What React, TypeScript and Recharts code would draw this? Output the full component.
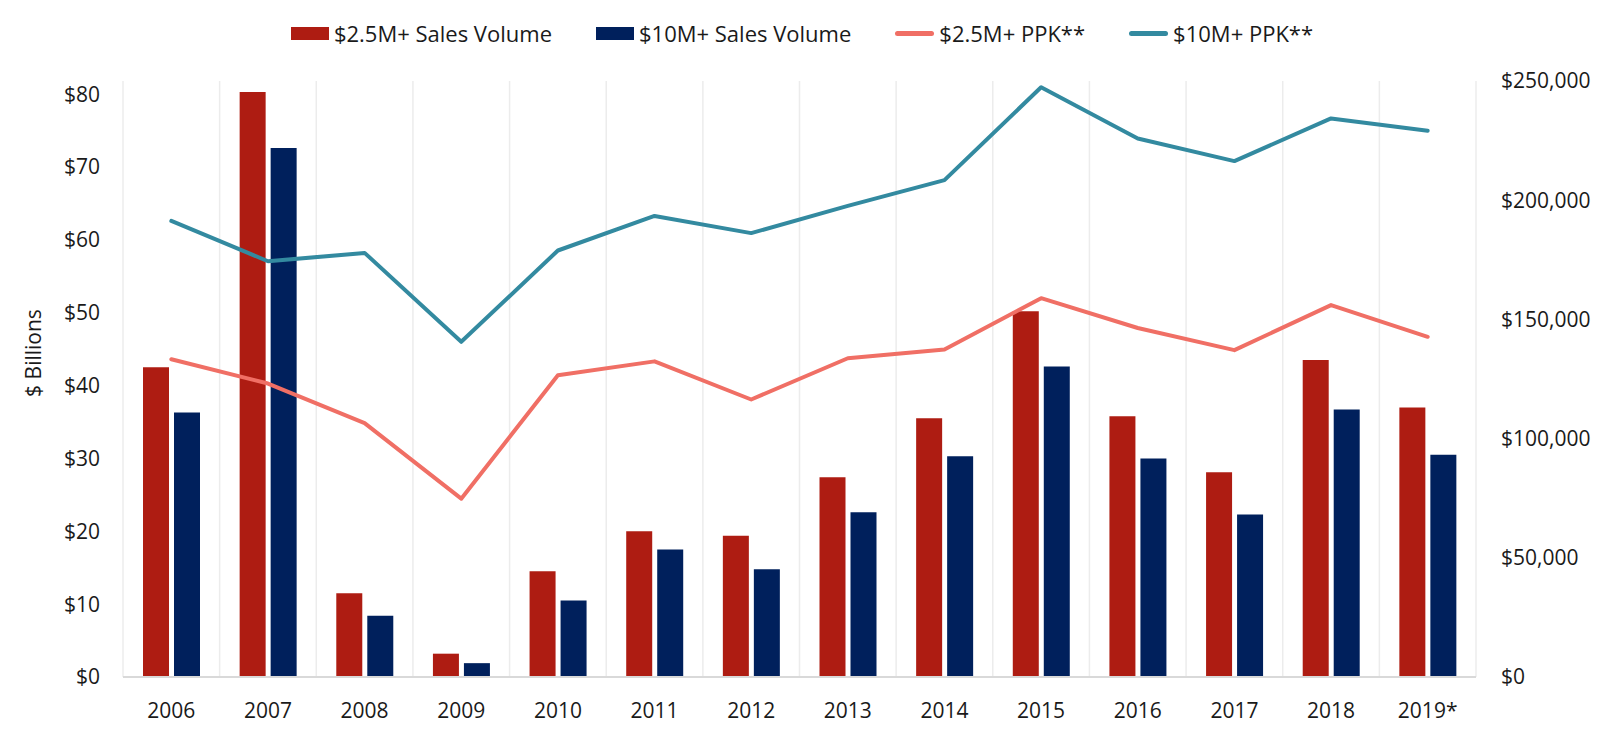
import React from 'react';
import {
  ComposedChart,
  Bar,
  Line,
  XAxis,
  YAxis,
  CartesianGrid,
  Legend,
} from 'recharts';

// Luxury home market: annual sales volume (bars, $B) and price per square foot (lines)
const years = ['2006', '2007', '2008', '2009', '2010', '2011', '2012', '2013', '2014', '2015', '2016', '2017', '2018', '2019*'];
const volume25M = [42.5, 80.3, 11.5, 3.2, 14.5, 20.0, 19.4, 27.4, 35.5, 50.2, 35.8, 28.1, 43.5, 37.0];
const volume10M = [36.3, 72.6, 8.4, 1.9, 10.5, 17.5, 14.8, 22.6, 30.3, 42.6, 30.0, 22.3, 36.7, 30.5];
const ppk25M = [133300, 123100, 106500, 74800, 126600, 132400, 116400, 133700, 137400, 158900, 146400, 137100, 156000, 142700];
const ppk10M = [191300, 174400, 177900, 140600, 178900, 193400, 186200, 197600, 208400, 247400, 225900, 216400, 234300, 229100];

const leftTicks = [0, 10, 20, 30, 40, 50, 60, 70, 80];
const rightTicks = [0, 50000, 100000, 150000, 200000, 250000];

const COLORS = {
  vol25: '#AE1C12',
  vol10: '#00205C',
  ppk25: '#F06F65',
  ppk10: '#338AA0',
  grid: '#ECECEC',
  axis: '#D9D9D9',
  text: '#1A1A1A',
};

const FONT = '"Open Sans", "Noto Sans", sans-serif';

const data = years.map((year, i) => ({
  year,
  vol25: volume25M[i],
  vol10: volume10M[i],
  ppk25: ppk25M[i],
  ppk10: ppk10M[i],
}));

const legendItems = [
  { key: 'vol25', label: '$2.5M+ Sales Volume', color: COLORS.vol25, kind: 'bar' },
  { key: 'vol10', label: '$10M+ Sales Volume', color: COLORS.vol10, kind: 'bar' },
  { key: 'ppk25', label: '$2.5M+ PPK**', color: COLORS.ppk25, kind: 'line' },
  { key: 'ppk10', label: '$10M+ PPK**', color: COLORS.ppk10, kind: 'line' },
];

function ChartLegend() {
  return (
    <div
      style={{
        height: 40,
        display: 'flex',
        alignItems: 'center',
        justifyContent: 'center',
        gap: 44,
        fontFamily: FONT,
        fontSize: 22,
        color: COLORS.text,
      }}
    >
      {legendItems.map((item) => (
        <div key={item.key} style={{ display: 'flex', alignItems: 'center', gap: 5 }}>
          {item.kind === 'bar' ? (
            <span style={{ display: 'inline-block', width: 38, height: 13, background: item.color }} />
          ) : (
            <span
              style={{
                display: 'inline-block',
                width: 39,
                height: 5,
                borderRadius: 2.5,
                background: item.color,
              }}
            />
          )}
          <span style={{ whiteSpace: 'nowrap' }}>{item.label}</span>
        </div>
      ))}
    </div>
  );
}

function BillionsLabel() {
  const x = 33;
  const y = 353;
  return (
    <text
      x={x}
      y={y}
      transform={`rotate(-90, ${x}, ${y})`}
      textAnchor="middle"
      dominantBaseline="central"
      fontFamily={FONT}
      fontSize={21}
      fill={COLORS.text}
    >
      $ Billions
    </text>
  );
}

// Vertical rules sit on the category boundaries rather than the tick centres
const boundaryLines = ({ offset }: any) => {
  const n = years.length;
  const step = offset.width / n;
  return Array.from({ length: n + 1 }, (_, i) => offset.left + i * step);
};

export default function App() {
  const tickStyle = { fontFamily: FONT, fontSize: 21, fill: COLORS.text };
  return (
    <div style={{ position: 'absolute', left: 0, top: 0, width: 1604, height: 737, background: '#fff' }}>
      <ComposedChart
        width={1604}
        height={737}
        data={data}
        margin={{ top: 41, right: 0, bottom: 0, left: 0 }}
        barGap={5}
        barSize={26}
      >
        <CartesianGrid
          horizontal={false}
          vertical
          stroke={COLORS.grid}
          strokeWidth={1.5}
          verticalCoordinatesGenerator={boundaryLines}
        />
        <Legend
          verticalAlign="top"
          align="center"
          content={() => <ChartLegend />}
          wrapperStyle={{ top: 13, left: 0, width: 1604 }}
        />
        <XAxis
          dataKey="year"
          height={60}
          tickLine={false}
          tickSize={0}
          tickMargin={26}
          axisLine={{ stroke: COLORS.axis, strokeWidth: 2 }}
          tick={tickStyle}
          interval={0}
        />
        <YAxis
          yAxisId="left"
          width={123}
          domain={[0, 81.8]}
          ticks={leftTicks}
          tickFormatter={(v: number) => `$${v}`}
          tickLine={false}
          tickSize={0}
          tickMargin={23}
          axisLine={false}
          tick={tickStyle}
          allowDataOverflow
          label={<BillionsLabel />}
        />
        <YAxis
          yAxisId="right"
          orientation="right"
          width={128}
          domain={[0, 250000]}
          ticks={rightTicks}
          tickFormatter={(v: number) => `$${v.toLocaleString('en-US')}`}
          tickLine={false}
          tickSize={0}
          tickMargin={25}
          axisLine={false}
          tick={tickStyle}
        />
        <Bar yAxisId="left" dataKey="vol25" name="$2.5M+ Sales Volume" fill={COLORS.vol25} isAnimationActive={false} />
        <Bar yAxisId="left" dataKey="vol10" name="$10M+ Sales Volume" fill={COLORS.vol10} isAnimationActive={false} />
        <Line
          yAxisId="right"
          type="linear"
          dataKey="ppk25"
          name="$2.5M+ PPK**"
          stroke={COLORS.ppk25}
          strokeWidth={4}
          strokeLinecap="round"
          strokeLinejoin="round"
          dot={false}
          activeDot={false}
          isAnimationActive={false}
        />
        <Line
          yAxisId="right"
          type="linear"
          dataKey="ppk10"
          name="$10M+ PPK**"
          stroke={COLORS.ppk10}
          strokeWidth={4}
          strokeLinecap="round"
          strokeLinejoin="round"
          dot={false}
          activeDot={false}
          isAnimationActive={false}
        />
      </ComposedChart>
    </div>
  );
}
